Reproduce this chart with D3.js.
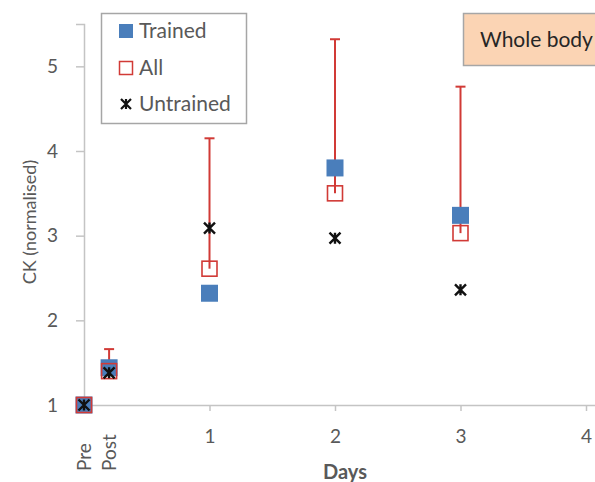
<!DOCTYPE html>
<html>
<head>
<meta charset="utf-8">
<script src="https://cdn.jsdelivr.net/npm/d3@7"></script>
<style>
  body { margin: 0; background: #fff; }
  text { font-family: Lato, "Open Sans", sans-serif; }
</style>
</head>
<body>
<div id="chart"></div>
<script>
// Data
var timepoints = ["Pre", "Post", "1", "2", "3"];
var dayPos = [0, 0.2, 1, 2, 3];
var trained = [1.0, 1.44, 2.32, 3.80, 3.24];
var all = [1.0, 1.40, 2.61, 3.50, 3.03];
var allUpper = [1.0, 1.66, 4.15, 5.32, 4.76];
var untrained = [1.0, 1.38, 3.09, 2.97, 2.36];
var dayTicks = [1, 2, 3, 4];
var yTicks = [1, 2, 3, 4, 5];

var width = 595, height = 482;

var svg = d3.select("#chart").append("svg")
  .attr("width", width)
  .attr("height", height);

var x = d3.scaleLinear().domain([0, 4.2]).range([84, 84 + 4.2 * 125.5]);
var y = d3.scaleLinear().domain([1, 5.5]).range([405, 24]);

var axisColor = "#c4c4c4";
var textColor = "#595959";

// y axis
var yAxis = svg.append("g")
  .attr("transform", "translate(" + x(0) + ",0)")
  .call(d3.axisLeft(y).tickValues(yTicks).tickSize(8).tickPadding(18)
    .tickFormat(d3.format("d")));
yAxis.select(".domain").attr("stroke", axisColor).attr("stroke-width", 1.5);
yAxis.selectAll(".tick line").attr("stroke", axisColor).attr("stroke-width", 1.5);
yAxis.selectAll(".tick text").attr("fill", textColor).style("font-size", "19px");

// x axis
var xAxis = svg.append("g")
  .attr("transform", "translate(0," + y(1) + ")")
  .call(d3.axisBottom(x).tickValues(dayTicks).tickSize(6).tickSizeOuter(0).tickPadding(19)
    .tickFormat(d3.format("d")));
xAxis.select(".domain").attr("stroke", axisColor).attr("stroke-width", 1.5);
xAxis.selectAll(".tick line").attr("stroke", axisColor).attr("stroke-width", 1.5);
xAxis.selectAll(".tick text").attr("fill", textColor).style("font-size", "19px");

// Pre / Post rotated labels
svg.append("g").selectAll("text")
  .data([0, 1])
  .enter().append("text")
    .attr("transform", function(i) { return "translate(" + (x(dayPos[i]) + 7) + ",471) rotate(-90)"; })
    .attr("fill", textColor)
    .style("font-size", "19px")
    .text(function(i) { return timepoints[i]; });

// axis titles
svg.append("text")
  .attr("x", 345).attr("y", 479)
  .attr("text-anchor", "middle")
  .attr("fill", textColor)
  .style("font-size", "20px")
  .style("font-weight", "bold")
  .text("Days");

svg.append("text")
  .attr("transform", "translate(36,222) rotate(-90)")
  .attr("text-anchor", "middle")
  .attr("fill", textColor)
  .style("font-size", "18px")
  .text("CK (normalised)");

var idx = d3.range(timepoints.length);
var blue = "#4a7ebb", red = "#d13a36";

// error bars (upper only)
var eb = svg.append("g");
eb.selectAll("line.v")
  .data(idx)
  .enter().append("line")
    .attr("x1", function(i) { return x(dayPos[i]); })
    .attr("x2", function(i) { return x(dayPos[i]); })
    .attr("y1", function(i) { return y(all[i]); })
    .attr("y2", function(i) { return y(allUpper[i]); })
    .attr("stroke", red).attr("stroke-width", 2);
eb.selectAll("line.c")
  .data(idx.filter(function(i) { return allUpper[i] > all[i]; }))
  .enter().append("line")
    .attr("x1", function(i) { return x(dayPos[i]) - 5; })
    .attr("x2", function(i) { return x(dayPos[i]) + 5; })
    .attr("y1", function(i) { return y(allUpper[i]); })
    .attr("y2", function(i) { return y(allUpper[i]); })
    .attr("stroke", red).attr("stroke-width", 2);

// Trained: filled blue squares
var sq = 17;
svg.append("g").selectAll("rect")
  .data(idx)
  .enter().append("rect")
    .attr("x", function(i) { return x(dayPos[i]) - sq / 2; })
    .attr("y", function(i) { return y(trained[i]) - sq / 2; })
    .attr("width", sq).attr("height", sq)
    .attr("fill", blue);

// All: open red squares
svg.append("g").selectAll("rect")
  .data(idx)
  .enter().append("rect")
    .attr("x", function(i) { return x(dayPos[i]) - 7.5; })
    .attr("y", function(i) { return y(all[i]) - 7.5; })
    .attr("width", 15).attr("height", 15)
    .attr("fill", "none")
    .attr("stroke", red).attr("stroke-width", 1.6);

// Untrained: star markers (X plus vertical stroke)
function starPath(cx, cy, r) {
  return "M" + (cx - r) + "," + (cy - r) + "L" + (cx + r) + "," + (cy + r) +
         "M" + (cx - r) + "," + (cy + r) + "L" + (cx + r) + "," + (cy - r) +
         "M" + cx + "," + (cy - r) + "L" + cx + "," + (cy + r);
}
svg.append("g").selectAll("path")
  .data(idx)
  .enter().append("path")
    .attr("d", function(i) { return starPath(x(dayPos[i]), y(untrained[i]), 5.5); })
    .attr("fill", "none")
    .attr("stroke", "#111").attr("stroke-width", 2.4);

// legend
var legend = svg.append("g");
legend.append("rect")
  .attr("x", 101.5).attr("y", 13.5).attr("width", 145).attr("height", 110)
  .attr("fill", "#fff").attr("stroke", "#a6a6a6").attr("stroke-width", 1.5);
var legendNames = ["Trained", "All", "Untrained"];
var legendY = [31, 68, 104];
var lg = legend.selectAll("g.item")
  .data(legendNames)
  .enter().append("g")
    .attr("transform", function(d, i) { return "translate(126," + legendY[i] + ")"; });
lg.filter(function(d, i) { return i === 0; }).append("rect")
  .attr("x", -7).attr("y", -7).attr("width", 14).attr("height", 14).attr("fill", blue);
lg.filter(function(d, i) { return i === 1; }).append("rect")
  .attr("x", -6.5).attr("y", -6.5).attr("width", 13).attr("height", 13)
  .attr("fill", "none").attr("stroke", red).attr("stroke-width", 1.5);
lg.filter(function(d, i) { return i === 2; }).append("path")
  .attr("d", starPath(0, 0, 5))
  .attr("fill", "none").attr("stroke", "#111").attr("stroke-width", 2.2);
lg.append("text")
  .attr("x", 13).attr("y", 7)
  .attr("fill", textColor)
  .style("font-size", "21px")
  .text(function(d) { return d; });

// title box
svg.append("rect")
  .attr("x", 463.5).attr("y", 13.5).attr("width", 150).attr("height", 52)
  .attr("fill", "#fbd4b4").attr("stroke", "#a6a6a6").attr("stroke-width", 1.5);
svg.append("text")
  .attr("x", 480).attr("y", 47)
  .attr("fill", "#262626")
  .style("font-size", "21px")
  .text("Whole body");
</script>
</body>
</html>
